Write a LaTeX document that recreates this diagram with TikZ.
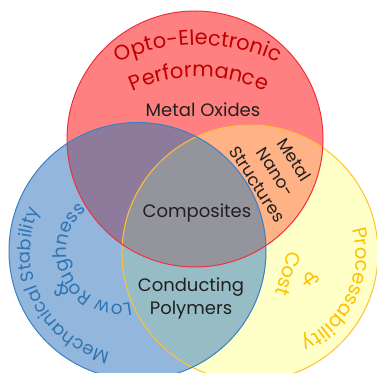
\documentclass[tikz,border=0pt]{standalone}
\usepackage{fontspec}
\setmainfont{Poppins}
\usetikzlibrary{decorations.text}
\definecolor{rfill}{HTML}{FF8080}
\definecolor{bfill}{HTML}{93B6DC}
\definecolor{yfill}{HTML}{FFFFC8}
\definecolor{rbfill}{HTML}{8E7A9A}
\definecolor{ryfill}{HTML}{FFB285}
\definecolor{byfill}{HTML}{96BCC6}
\definecolor{allfill}{HTML}{94959C}
\definecolor{rstroke}{HTML}{F0303A}
\definecolor{bstroke}{HTML}{3A80C4}
\definecolor{ystroke}{HTML}{FFC230}
\definecolor{optored}{HTML}{C00000}
\definecolor{mechblue}{HTML}{2E75B6}
\definecolor{procyel}{HTML}{FFC000}
\definecolor{lbltext}{HTML}{202020}
\begin{document}
\begin{tikzpicture}[x=1pt,y=1pt,
  lbl/.style={text=lbltext, font=\fontsize{18}{23}\selectfont, inner sep=0pt},
  sidelbl/.style={font=\fontsize{19.5}{20}\selectfont, inner sep=0pt}]
\useasboundingbox (0,0) rectangle (377,372);
\clip (0,0) rectangle (377,372);
\coordinate (R) at (195,233);
\coordinate (B) at (137.5,121);
\coordinate (Y) at (250,119);
% fills
\fill[yfill] (Y) circle[radius=128];
\fill[rfill] (R) circle[radius=128];
\fill[bfill] (B) circle[radius=128.5];
\begin{scope}
  \clip (R) circle[radius=128];
  \fill[rbfill] (B) circle[radius=128.5];
  \fill[ryfill] (Y) circle[radius=128];
\end{scope}
\begin{scope}
  \clip (B) circle[radius=128.5];
  \fill[byfill] (Y) circle[radius=128];
  \clip (R) circle[radius=128];
  \fill[allfill] (Y) circle[radius=128];
\end{scope}
% outlines
\draw[ystroke, line width=1pt] (Y) circle[radius=128];
\draw[rstroke, line width=1pt] (R) circle[radius=128];
\draw[bstroke, line width=1pt] (B) circle[radius=128.5];
% curved titles
\path[decorate, decoration={text along path, text align=center, text color=optored,
  text={|\fontsize{21}{21}\selectfont|Opto-Electronic}}]
  (198,136) ++(150:191) arc[start angle=150, end angle=30, radius=191];
\path[decorate, decoration={text along path, text align=center, text color=optored,
  text={|\fontsize{21}{21}\selectfont|Performance}}]
  (199,136) ++(150:159) arc[start angle=150, end angle=30, radius=159];
\path[decorate, decoration={text along path, text align=center, text color=procyel,
  text={|\fontsize{19.5}{19.5}\selectfont|Processability}}]
  (265,116) ++(65:91) arc[start angle=65, end angle=-115, radius=91];
\path[decorate, decoration={text along path, text align=center, text color=mechblue,
  text={|\fontsize{18}{18}\selectfont|Mechanical Stability}}]
  (133,120) ++(296.5:102.5) arc[start angle=296.5, end angle=116.5, radius=102.5];
\path[decorate, decoration={text along path, text align=center, text color=mechblue,
  text={|\fontsize{18.5}{18.5}\selectfont|Low Roughness}}]
  (119,120.5) ++(295.5:52.5) arc[start angle=295.5, end angle=115.5, radius=52.5];
% side small texts
\node[sidelbl, text=mechblue, rotate=123.6] (amp1) at (61,82) {\&};
\node[sidelbl, text=procyel, rotate=-100] (amp2) at (312,92) {\&};
\node[sidelbl, text=procyel, rotate=-108] (cost) at (288.5,98) {Cost};
% labels
\node[lbl] (mo) at (203,262) {Metal Oxides};
\node[lbl] (comp) at (197,159) {Composites};
\node[lbl, align=center] (cp) at (191,74) {Conducting\\Polymers};
\node[lbl, align=center, rotate=-57, font=\fontsize{17}{22}\selectfont] (mn) at (276,200) {Metal\\Nano-\\Structures};
\end{tikzpicture}
\end{document}
